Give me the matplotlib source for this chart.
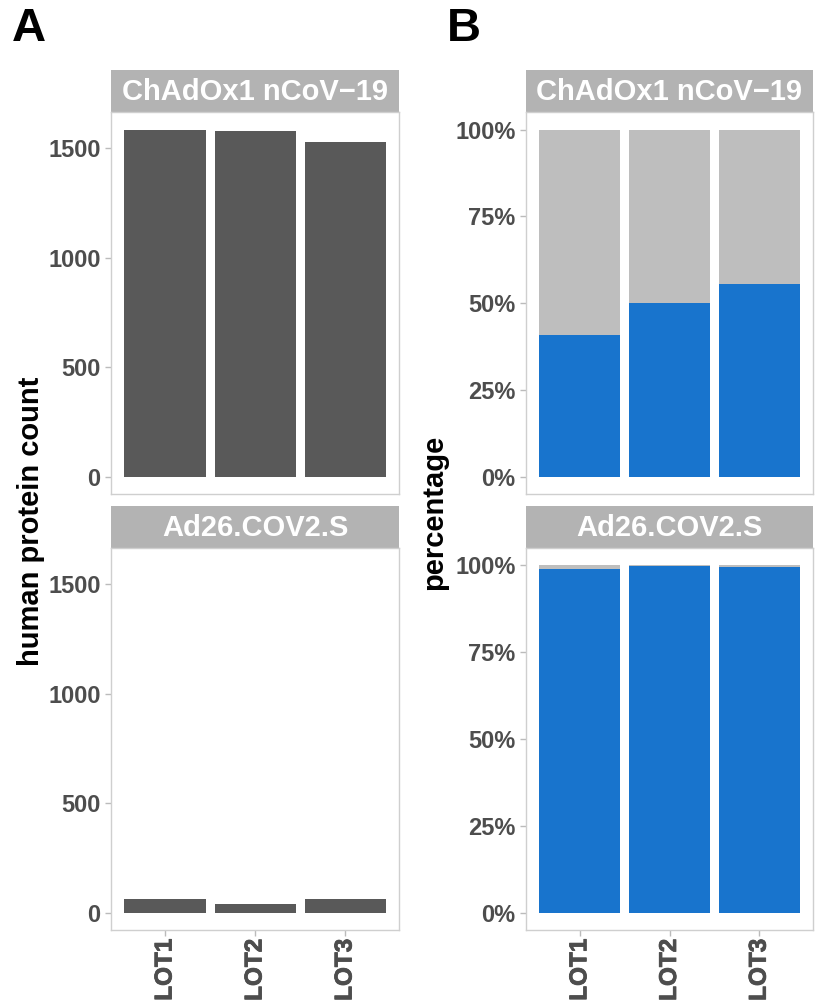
import numpy as np
import matplotlib.pyplot as plt
import matplotlib.transforms as mtransforms
import matplotlib.patheffects as pe
from matplotlib.ticker import FuncFormatter

plt.rcParams["font.family"] = ["Liberation Sans", "DejaVu Sans"]
plt.rcParams["font.weight"] = "bold"

# -----------------------------------------------------------------------------
# Data

lots = ["LOT1", "LOT2", "LOT3"]
vaccines = ["ChAdOx1 nCoV\u221219", "Ad26.COV2.S"]

# human protein counts per lot
count_chadox = [1585, 1580, 1530]
count_ad26 = [63, 40, 63]

# percentage of the blue class per lot (rest is grey)
blue_pct_chadox = [40.8, 49.9, 55.5]
blue_pct_ad26 = [99.0, 99.8, 99.5]

# -----------------------------------------------------------------------------
# Style

BAR_DARK = "#595959"
BLUE = "#1874CD"
GREY = "#bebebe"
STRIP = "#b3b3b3"
BORDER = "#cfcfcf"
TICK_TXT = "#4d4d4d"

W, H = 819, 1007
fg = plt.figure(figsize=(W / 100, H / 100), dpi=100)


def px_axes(x0, y0, x1, y1):
    "Axes placed by pixel box (top-left origin)"
    return fg.add_axes([x0 / W, 1 - y1 / H, (x1 - x0) / W, (y1 - y0) / H])


def strip(x0, y0, x1, y1, label):
    sax = px_axes(x0, y0, x1, y1)
    sax.set_facecolor(STRIP)
    sax.set_xticks([])
    sax.set_yticks([])
    for sp in sax.spines.values():
        sp.set_visible(False)
    sax.text(0.5, 0.48, label, ha="center", va="center", color="white",
             fontsize=21, fontweight="bold", transform=sax.transAxes)


def style_panel(ax, show_x):
    for sp in ax.spines.values():
        sp.set_color(BORDER)
        sp.set_linewidth(1.0)
    ax.tick_params(axis="both", colors="#bbbbbb", length=4, width=1,
                   labelcolor=TICK_TXT, labelsize=17)
    ax.set_xlim(0.4, 3.6)
    x = np.arange(1, len(lots) + 1)
    ax.set_xticks(x)
    ax.tick_params(axis="x", labelbottom=False)
    if show_x:
        # rotated lot names under the ticks
        trans = mtransforms.blended_transform_factory(ax.transData, ax.transAxes)
        offset = mtransforms.ScaledTranslation(0, -9 / 100, fg.dpi_scale_trans)
        for xi, name in zip(x, lots):
            ax.text(xi, 0, name, rotation=90, ha="center", va="top",
                    fontsize=17.5, fontweight="bold", color=TICK_TXT,
                    transform=trans + offset,
                    path_effects=[pe.withStroke(linewidth=0.6,
                                                foreground=TICK_TXT)])
    else:
        ax.tick_params(axis="x", bottom=False)
    for lbl in ax.get_yticklabels():
        lbl.set_fontweight("bold")


x = np.arange(1, len(lots) + 1)
ymax = max(count_chadox + count_ad26)

# boxes in pixels: (x0, y0, x1, y1)
LEFT = (111, 399)
RIGHT = (526, 813)
TOP_STRIP = (69.5, 112.3)
TOP_PANEL = (112.3, 494)
BOT_STRIP = (506, 548)
BOT_PANEL = (548, 930)

# -----------------------------------------------------------------------------
# A: counts

for counts, vac, strip_y, panel_y, show_x in [
    (count_chadox, vaccines[0], TOP_STRIP, TOP_PANEL, False),
    (count_ad26, vaccines[1], BOT_STRIP, BOT_PANEL, True),
]:
    strip(LEFT[0], strip_y[0], LEFT[1], strip_y[1], vac)
    ax = px_axes(LEFT[0], panel_y[0], LEFT[1], panel_y[1])
    ax.bar(x, counts, width=0.9, color=BAR_DARK)
    ax.set_ylim(-0.05 * ymax, 1.05 * ymax)
    ax.set_yticks([0, 500, 1000, 1500])
    style_panel(ax, show_x)

# -----------------------------------------------------------------------------
# B: percentages

pct_fmt = FuncFormatter(lambda v, _: f"{v:.0f}%")
for blue, vac, strip_y, panel_y, show_x in [
    (blue_pct_chadox, vaccines[0], TOP_STRIP, TOP_PANEL, False),
    (blue_pct_ad26, vaccines[1], BOT_STRIP, BOT_PANEL, True),
]:
    strip(RIGHT[0], strip_y[0], RIGHT[1], strip_y[1], vac)
    ax = px_axes(RIGHT[0], panel_y[0], RIGHT[1], panel_y[1])
    blue = np.array(blue)
    ax.bar(x, 100 - blue, bottom=blue, width=0.9, color=GREY)
    ax.bar(x, blue, width=0.9, color=BLUE)
    ax.set_ylim(-5, 105)
    ax.set_yticks([0, 25, 50, 75, 100])
    ax.yaxis.set_major_formatter(pct_fmt)
    style_panel(ax, show_x)

# -----------------------------------------------------------------------------
# Axis titles and panel letters

fg.text(31 / W, 1 - 521 / H, "human protein count", rotation=90,
        ha="center", va="center", fontsize=21, fontweight="bold", color="black")
fg.text(434 / W, 1 - 512 / H, "percentage", rotation=90,
        ha="center", va="center", fontsize=21, fontweight="bold", color="black")

fg.text(12 / W, 1 - 29 / H, "A", ha="left", va="center", fontsize=34,
        fontweight="bold", color="black")
fg.text(447 / W, 1 - 29 / H, "B", ha="left", va="center", fontsize=34,
        fontweight="bold", color="black")

fg.savefig("out.png", dpi=100)
